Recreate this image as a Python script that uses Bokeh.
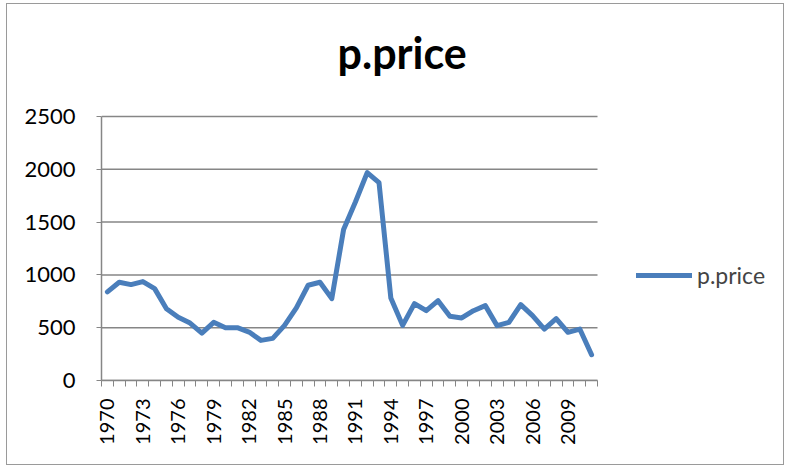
from bokeh.plotting import figure
from bokeh.models import FixedTicker, Legend, LegendItem, Range1d, Label
from bokeh.embed import file_html
from bokeh.resources import INLINE
import math

years = list(range(1970, 2012))
price = [839, 930, 908, 937, 870, 680, 598, 544, 449, 551,
         500, 500, 459, 380, 399, 522, 687, 902, 930, 775,
         1430, 1690, 1968, 1873, 782, 522, 728, 661, 756, 608,
         592, 661, 709, 519, 551, 718, 614, 487, 585, 456,
         487, 244]
label_years = list(range(1970, 2012, 3))
y_ticks = [0, 500, 1000, 1500, 2000, 2500]
title_text = "p.price"

FONT = "Lato"
GRID = "#868686"
BLUE = "#4A7EBB"

W, H = 778, 462
LEFT, TOP, BOTTOM, RIGHT = 94, 2, 86, 8
AXIS_W_PX, AXIS_H_PX = 496, 264          # extent of the real axes in pixels
x0, x1 = years[0] - 0.5, years[-1] + 0.5
y0, y1 = y_ticks[0], y_ticks[-1]
frame_w = W - LEFT - RIGHT
frame_h = H - TOP - BOTTOM
x_end = x0 + (x1 - x0) * frame_w / AXIS_W_PX
y_end = y0 + (y1 - y0) * frame_h / AXIS_H_PX
x_per_px = (x1 - x0) / AXIS_W_PX
y_per_px = (y1 - y0) / AXIS_H_PX

p = figure(width=W, height=H, output_backend="svg", toolbar_location=None,
           title_location=None,
           x_range=Range1d(x0, x_end), y_range=Range1d(y0, y_end),
           min_border_left=LEFT, min_border_right=RIGHT, min_border_top=TOP,
           min_border_bottom=BOTTOM)
p.styles = {"border": "1px solid #9a9a9a", "margin-left": "6px", "margin-top": "3px"}
p.outline_line_color = None
p.background_fill_color = "white"
p.border_fill_color = "white"

# horizontal gridlines, limited to the category axis extent
p.segment(x0=[x0] * len(y_ticks), x1=[x1] * len(y_ticks), y0=y_ticks, y1=y_ticks,
          line_color=GRID, line_width=1.5)

r = p.line(years, price, line_color=BLUE, line_width=5, line_join="round", line_cap="round")

# title (positioned right of the axis start, baseline above the x axis)
p.add_layout(Label(x=x0 + 236 * x_per_px, y=y0 + 328 * y_per_px, text=title_text,
                   text_font=FONT, text_font_size="43px", text_font_style="bold",
                   text_color="black", text_align="left", text_baseline="alphabetic"))

# axes
p.xaxis.bounds = (x0, x1)
p.xaxis.ticker = FixedTicker(ticks=label_years, minor_ticks=[y - 0.5 for y in years] + [x1])
p.xaxis.major_label_orientation = math.pi / 2
p.xaxis.major_tick_line_color = None
p.xaxis.minor_tick_line_color = GRID
p.xaxis.minor_tick_out = 6
p.xaxis.minor_tick_in = 0
p.xaxis.major_label_standoff = 12
p.xaxis.major_label_text_font_size = "20px"
p.yaxis.bounds = (y0, y1)
p.yaxis.ticker = FixedTicker(ticks=y_ticks)
p.yaxis.minor_tick_line_color = None
p.yaxis.major_tick_line_color = GRID
p.yaxis.major_tick_out = 5
p.yaxis.major_tick_in = 0
p.yaxis.major_label_standoff = 21
p.yaxis.major_label_text_font_size = "22px"
for ax in (p.xaxis, p.yaxis):
    ax.axis_line_color = GRID
    ax.axis_line_width = 1.5
    ax.major_label_text_font = FONT
    ax.major_label_text_color = "black"

p.xgrid.grid_line_color = None
p.ygrid.grid_line_color = None

legend = Legend(items=[LegendItem(label="p.price", renderers=[r])],
                location=(535, 91), glyph_width=56, glyph_height=24,
                label_text_font=FONT, label_text_font_size="23px",
                label_standoff=5, padding=0, margin=0,
                border_line_color=None, background_fill_alpha=0)
p.add_layout(legend, "center")

open("out.html", "w").write(file_html(p, INLINE))
